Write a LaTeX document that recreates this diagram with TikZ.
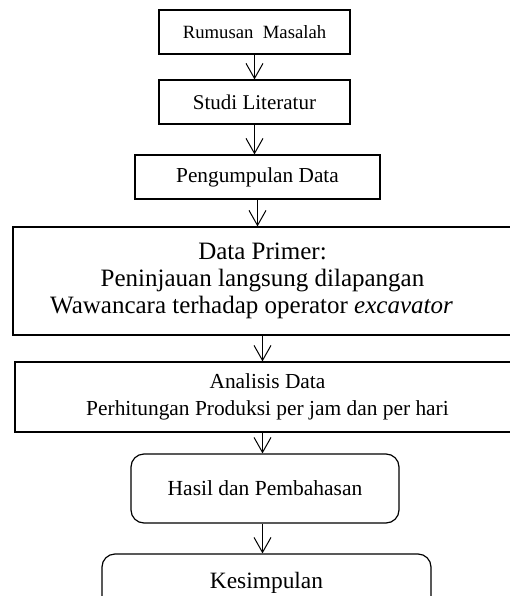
\documentclass[tikz,border=0pt]{standalone}
\usepackage{fontspec}
\setmainfont{Liberation Serif}
\usetikzlibrary{arrows.meta}

\begin{document}
\begin{tikzpicture}[x=1pt, y=-1pt,
    proses/.style={draw, line width=1.2pt, inner sep=0pt, align=center},
    bulat/.style={proses, rounded corners=13pt},
    arr/.style={-{Straight Barb[length=15pt,width=17pt]}, line width=1pt}
]
\useasboundingbox (0,0) rectangle (510,596);
\clip (0,0) rectangle (510,596);
\node[proses, minimum width=191pt, minimum height=44pt, font=\fontsize{18.7}{22}\selectfont] (rumusan) at (254.5,32) {Rumusan\ \ Masalah};
\node[proses, minimum width=191pt, minimum height=44pt, font=\fontsize{21}{24}\selectfont] (studi) at (254.5,102) {Studi Literatur};
\node[proses, minimum width=245pt, minimum height=44pt, font=\fontsize{21.3}{24}\selectfont] (kumpul) at (257.5,177) {Pengumpulan Data};
\node[proses, minimum width=499pt, minimum height=108pt, font=\fontsize{25}{27}\selectfont] (primer) at (262.5,281) {Data Primer:\\Peninjauan langsung dilapangan\\Wawancara terhadap operator \textit{excavator}\hspace*{22pt}};
\node[proses, minimum width=505pt, minimum height=70pt, font=\fontsize{21.4}{27}\selectfont] (analisis) at (267.5,397) {Analisis Data\\Perhitungan Produksi per jam dan per hari};
\node[bulat, minimum width=268pt, minimum height=69pt, font=\fontsize{21.5}{24}\selectfont] (hasil) at (265,488.5) {Hasil dan Pembahasan};
\node[bulat, minimum width=329pt, minimum height=58pt, font=\fontsize{23.4}{28}\selectfont] (simpulan) at (266.5,583) {Kesimpulan};

\draw[arr] (rumusan) -- (studi);
\draw[arr] (studi) -- (kumpul.north -| studi);
\draw[arr] (kumpul.south) -- (kumpul.south |- primer.north);
\draw[arr] (primer.south) -- (primer.south |- analisis.north);
\draw[arr] (analisis.south -| primer.south) -- (hasil.north -| primer.south);
\draw[arr] (hasil.south -| primer.south) -- (simpulan.north -| primer.south);
\end{tikzpicture}
\end{document}
